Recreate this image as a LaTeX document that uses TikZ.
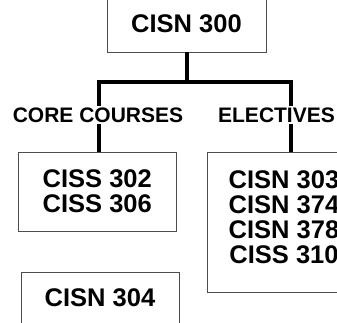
\documentclass[tikz,border=0pt]{standalone}
\usepackage{fontspec}
\setmainfont{Liberation Sans}
\usetikzlibrary{positioning, calc}
\tikzset{
	x=1pt, y=-1pt, % work in pixels of the page, y going down
	course/.style={draw=black!70, line width=0.9pt, align=center, inner sep=0pt, font=\fontsize{25.5}{25}\selectfont\bfseries}, % a box of courses
	group label/.style={fill=white, inner sep=2pt, font=\fontsize{21}{21}\selectfont\bfseries}, % the heading over a branch
	branch/.style={line width=4pt}, % the thick tree lines
}
\begin{document}
\begin{tikzpicture}
		\useasboundingbox (0,0) rectangle (337,322);
		\clip (0,0) rectangle (337,322);

		\node[course, minimum width=159, minimum height=56] (top_node) at (186.5,24) {CISN 300};
		\node[course, minimum width=157.5, minimum height=79] (core_node) at (97.25,191.5) {CISS 302\\CISS 306};
		\node[course, minimum width=154, minimum height=140, text depth=9pt] (elective_node) at (284,222) {CISN 303\\CISN 374\\CISN 378\\CISS 310};
		\node[course, minimum width=158, minimum height=52] (extra_node) at (100,298) {CISN 304};

		\coordinate (split) at (186.5,82);
		\coordinate (core_end) at (99,82);
		\coordinate (elective_end) at (291,82);

		\draw[branch] (top_node.south) -- (split);
		\draw[branch] (core_end |- core_node.north) -- (core_end) -- (elective_end) -- (elective_end |- elective_node.north);

		\node[group label] (core_label) at (98,115) {CORE COURSES};
		\node[group label] (elective_label) at (276.5,115) {ELECTIVES};
	\end{tikzpicture}
\end{document}
